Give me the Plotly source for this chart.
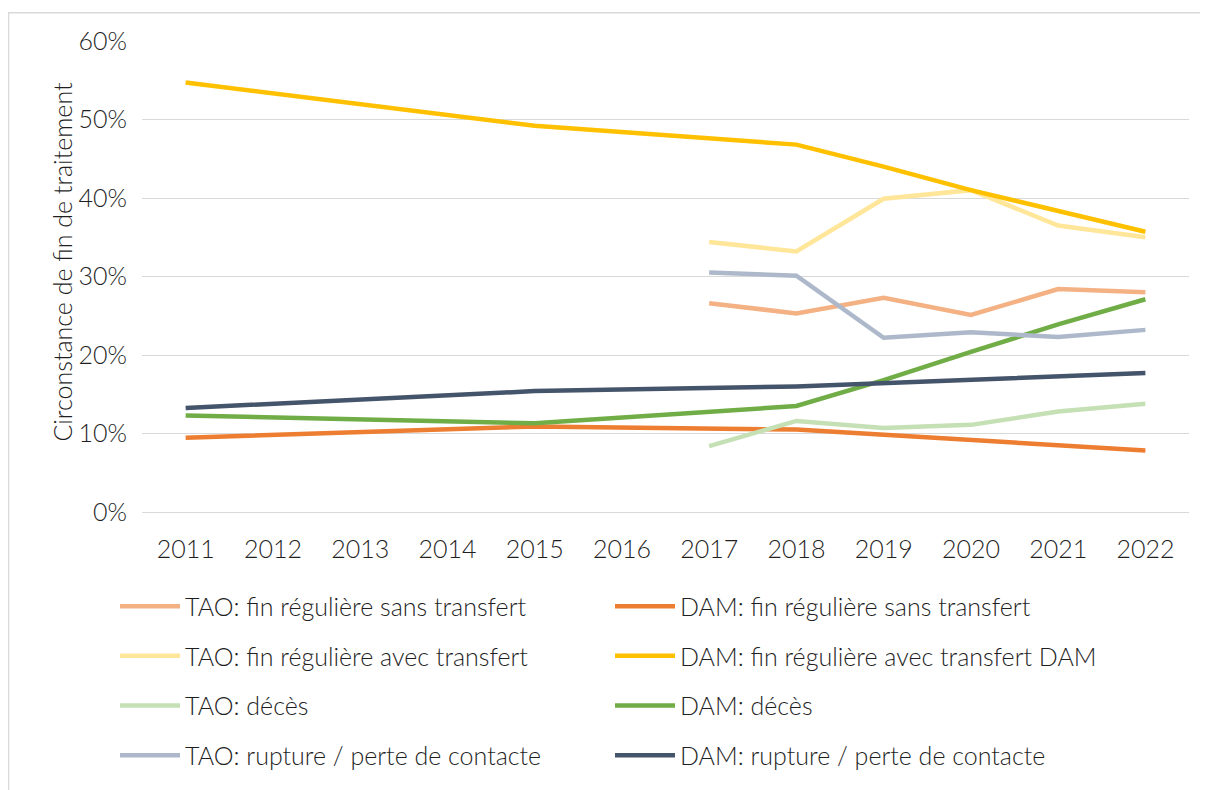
import plotly.graph_objects as go

years = [2011, 2012, 2013, 2014, 2015, 2016, 2017, 2018, 2019, 2020, 2021, 2022]
year_labels = [str(y) for y in years]

# TAO series (2017-2022)
tao_sans = [None, None, None, None, None, None, 0.266, 0.253, 0.273, 0.251, 0.284, 0.280]
tao_avec = [None, None, None, None, None, None, 0.344, 0.332, 0.399, 0.410, 0.365, 0.350]
tao_deces = [None, None, None, None, None, None, 0.084, 0.116, 0.107, 0.111, 0.128, 0.138]
tao_rupture = [None, None, None, None, None, None, 0.305, 0.301, 0.222, 0.229, 0.223, 0.232]

# DAM series
dam_sans = [0.0945, None, None, None, 0.109, None, None, 0.105, None, None, None, 0.0785]
dam_avec = [0.547, None, None, None, 0.492, None, None, 0.468, 0.440, 0.410, 0.384, 0.357]
dam_deces = [0.123, None, None, None, 0.113, None, None, 0.135, 0.168, 0.204, 0.239, 0.271]
dam_rupture = [0.1325, None, None, None, 0.154, None, None, 0.160, None, None, None, 0.177]

y_title = "Circonstance de fin de traitement"

names = [
    "TAO: fin régulière sans transfert", "DAM: fin régulière sans transfert",
    "TAO: fin régulière avec transfert", "DAM: fin régulière avec transfert DAM",
    "TAO: décès", "DAM: décès",
    "TAO: rupture / perte de contacte", "DAM: rupture / perte de contacte",
]
series = [tao_sans, dam_sans, tao_avec, dam_avec, tao_deces, dam_deces, tao_rupture, dam_rupture]
colors = ["#F4B183", "#ED7D31", "#FFE699", "#FFC000", "#C5E0B4", "#70AD47", "#ADB9CA", "#44546A"]
legends = ["legend", "legend", "legend2", "legend2", "legend3", "legend3", "legend4", "legend4"]

FONT = "Lato"
FS = 25
TXT = "#1f1f1f"

fig = go.Figure()
for name, vals, col, lg in zip(names, series, colors, legends):
    fig.add_trace(go.Scatter(
        x=years, y=vals, name=name, mode="lines", connectgaps=True,
        line=dict(color=col, width=4.5, shape="linear"),
        legend=lg,
    ))

OFF = 8  # page body margin
W, H = 1200, 782
# plot area in page pixels
PL, PR, PT, PB = 142, 1189, 41, 515
L, T = PL - OFF, PT - OFF
R = W - (PR - OFF)
B = H - (PB - OFF)
pw = W - L - R
ph = H - T - B

def xp(page_x):
    return (page_x - OFF - L) / pw

def yp(page_y):
    return (H - B - (page_y - OFF)) / ph

leg_common = dict(orientation="h", xanchor="left", yanchor="middle",
                  font=dict(family=FONT, size=FS, color=TXT, weight=300),
                  entrywidth=420, itemwidth=60, bgcolor="rgba(0,0,0,0)",
                  traceorder="normal")
row_y = [610, 660, 710, 760]

layout_legends = {}
for key, ry in zip(["legend", "legend2", "legend3", "legend4"], row_y):
    layout_legends[key] = dict(leg_common, x=xp(115), y=yp(ry))

fig.update_layout(
    width=W, height=H,
    margin=dict(l=L, r=R, t=T, b=B),
    paper_bgcolor="white", plot_bgcolor="white",
    font=dict(family=FONT, size=FS, color=TXT, weight=300),
    showlegend=True,
    **layout_legends,
    shapes=[dict(type="rect", xref="paper", yref="paper",
                 x0=xp(8.5), x1=xp(1240), y0=yp(830), y1=yp(12.5),
                 line=dict(color="#D9D9D9", width=1.5), fillcolor="rgba(0,0,0,0)", layer="below")],
    annotations=[dict(text=y_title, xref="paper", yref="paper", x=xp(62), y=yp(263),
                      xanchor="center", yanchor="middle", textangle=-90, showarrow=False,
                      font=dict(family=FONT, size=FS, color=TXT, weight=300))],
)
fig.update_xaxes(
    range=[2010.5, 2022.5], tickmode="array", tickvals=years, ticktext=year_labels,
    showgrid=False, showline=False, zeroline=False, ticks="",
    tickfont=dict(family=FONT, size=FS, color=TXT, weight=300), ticklabelstandoff=20,
)
fig.update_yaxes(
    range=[0, 0.6], dtick=0.1, tickformat=".0%",
    showgrid=True, gridcolor="#D9D9D9", gridwidth=1.3,
    zeroline=True, zerolinecolor="#D9D9D9", zerolinewidth=1.3, showline=False, ticks="",
    tickfont=dict(family=FONT, size=FS, color=TXT, weight=300), ticklabelstandoff=14,
)

fig.write_html("out.html")
